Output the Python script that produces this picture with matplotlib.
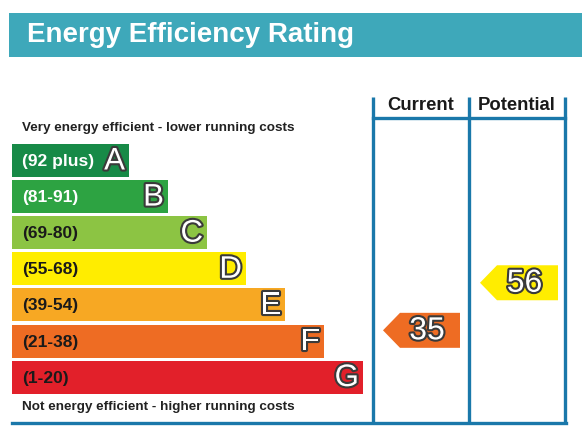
import matplotlib
matplotlib.use("Agg")
import matplotlib.pyplot as plt
import matplotlib.patheffects as pe
from matplotlib.patches import Rectangle, Polygon
import numpy as np

plt.rcParams['font.family'] = ['Liberation Sans', 'DejaVu Sans']

# ---- data ----
letters = ["A", "B", "C", "D", "E", "F", "G"]
ranges = ["(92 plus)", "(81-91)", "(69-80)", "(55-68)", "(39-54)", "(21-38)", "(1-20)"]
band_low = [92, 81, 69, 55, 39, 21, 1]
band_high = [100, 91, 80, 68, 54, 38, 20]
band_colors = ["#178a47", "#2da342", "#8cc443", "#ffed00", "#f7a823", "#ee6c23", "#e2202a"]
label_colors = ["white", "white", "#1a1a1a", "#1a1a1a", "#1a1a1a", "#1a1a1a", "#1a1a1a"]

current = 35
potential = 56
current_color = "#ee6c23"
potential_color = "#ffed00"

# ---- layout (pixel coordinates) ----
W, H = 582, 437
row_top0, row_step, row_h = 144, 36.1, 33
bar_x0, bar_w0, bar_dw = 12, 117, 39
col1, col2, col3 = 373, 469, 565
line_blue = "#1a78aa"
teal = "#3ea8ba"

fig = plt.figure(figsize=(W / 100, H / 100), dpi=100)
ax = fig.add_axes([0, 0, 1, 1])
ax.set_xlim(0, W)
ax.set_ylim(H, 0)
ax.axis("off")

outline = [pe.withStroke(linewidth=3, foreground="#3a3a3a")]

# header band
ax.add_patch(Rectangle((9, 13), W - 9, 44, color=teal, lw=0))
ax.text(27, 35, "Energy Efficiency Rating", color="white", fontsize=20,
        fontweight="bold", va="center", ha="left")

# rating bars
for i, (let, rng) in enumerate(zip(letters, ranges)):
    top = row_top0 + i * row_step
    w = bar_w0 + i * bar_dw
    ax.add_patch(Rectangle((bar_x0, top), w, row_h, color=band_colors[i], lw=0))
    yc = top + row_h / 2
    ax.text(22, yc + 1, rng, color=label_colors[i], fontsize=12.5, fontweight="bold",
            va="center", ha="left")
    ax.text(bar_x0 + w - 4, yc + 1, let, color="white", fontsize=22.5, va="center",
            ha="right", path_effects=outline)

ax.text(22, 128, "Very energy efficient - lower running costs", color="#222222",
        fontsize=9.7, fontweight="bold", va="center", ha="left")
ax.text(22, 407, "Not energy efficient - higher running costs", color="#222222",
        fontsize=9.7, fontweight="bold", va="center", ha="left")

# column frame
for x in (col1, col2, col3):
    ax.plot([x, x], [97, 423], color=line_blue, lw=2.4, solid_capstyle="butt")
ax.plot([col1, col3], [118, 118], color=line_blue, lw=2.4)
ax.plot([bar_x0, col3 + 1.2], [423, 423], color=line_blue, lw=2.4)
ax.text((col1 + col2) / 2, 106, "Current", fontsize=13.3, fontweight="bold",
        color="#1a1a1a", va="center", ha="center")
ax.text((col2 + col3) / 2, 106, "Potential", fontsize=13.3, fontweight="bold",
        color="#1a1a1a", va="center", ha="center")


def value_to_y(v):
    # linear within the band the value falls in
    for i in range(len(letters)):
        if band_low[i] <= v <= band_high[i]:
            top = row_top0 + i * row_step
            frac = (v - band_low[i]) / (band_high[i] - band_low[i])
            return top + row_h - frac * row_h
    return row_top0


def arrow(v, x_tip, x_right, color):
    yc = value_to_y(v)
    h = 35
    tip = 17
    pts = [(x_tip, yc), (x_tip + tip, yc - h / 2), (x_right, yc - h / 2),
           (x_right, yc + h / 2), (x_tip + tip, yc + h / 2)]
    ax.add_patch(Polygon(pts, closed=True, color=color, lw=0))
    ax.text((x_tip + tip + x_right) / 2 - 3, yc + 1, str(v), color="white",
            fontsize=23, va="center", ha="center", path_effects=outline)


arrow(current, 383, 460, current_color)
arrow(potential, 480, 558, potential_color)

fig.savefig("out.png", dpi=100)
